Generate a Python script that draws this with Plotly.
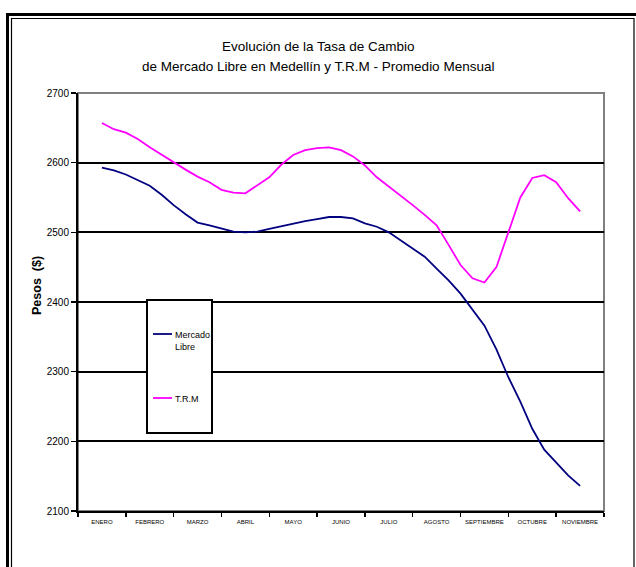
import plotly.graph_objects as go

# ---------------- data ----------------
months = ["ENERO", "FEBRERO", "MARZO", "ABRIL", "MAYO", "JUNIO",
          "JULIO", "AGOSTO", "SEPTIEMBRE", "OCTUBRE", "NOVIEMBRE"]

# sample positions (in month units, 4 samples per month, Jan 0 .. Nov 10)
x_pos = [i / 4 for i in range(41)]

mercado_libre = [2593, 2589, 2583, 2575, 2567, 2554, 2539, 2526, 2514, 2510,
                 2505, 2501, 2500, 2501, 2505, 2509, 2512, 2516, 2519, 2522,
                 2522, 2520, 2513, 2508, 2500, 2488, 2477, 2465, 2448, 2431,
                 2412, 2389, 2366, 2332, 2292, 2257, 2218, 2188, 2170, 2151,
                 2136]

trm = [2657, 2648, 2643, 2634, 2622, 2611, 2601, 2590, 2580, 2572,
       2561, 2557, 2556, 2568, 2579, 2597, 2611, 2618, 2621, 2622,
       2618, 2609, 2596, 2579, 2566, 2552, 2539, 2525, 2510, 2482,
       2453, 2434, 2428, 2450, 2500, 2550, 2578, 2582, 2572, 2549,
       2530]

y_ticks = [2100, 2200, 2300, 2400, 2500, 2600, 2700]

series_names = ["Mercado<br>Libre", "T.R.M"]
series_colors = ["#000080", "#FF00FF"]

# ---------------- layout helpers ----------------
W, H = 636, 567
PL, PR, PT, PB = 78, 604, 93, 511  # plot area in pixels


def px(x):
    return x / W


def py(y):
    return 1 - y / H


FONT = "Liberation Sans, Arial, sans-serif"

fig = go.Figure()
for name, vals, col in zip(series_names, [mercado_libre, trm], series_colors):
    fig.add_trace(go.Scatter(x=x_pos, y=vals, mode="lines", name=name.replace("<br>", " "),
                             line=dict(color=col, width=1.8), showlegend=False,
                             xaxis="x", yaxis="y"))

n = len(months)
fig.update_layout(
    width=W, height=H,
    margin=dict(l=0, r=0, t=0, b=0, autoexpand=False),
    paper_bgcolor="white", plot_bgcolor="white",
    font=dict(family=FONT, color="black"),
    xaxis=dict(domain=[px(PL), px(PR)], range=[-0.5, n - 0.5],
               tickvals=[i - 0.5 for i in range(n + 1)],
               ticktext=["" for _ in range(n + 1)],
               ticks="outside", ticklen=4, tickwidth=1.5, tickcolor="black",
               showline=True, linecolor="black", linewidth=2,
               showgrid=False, zeroline=False, fixedrange=True),
    xaxis2=dict(domain=[px(PL), px(PR)], range=[-0.5, n - 0.5],
                overlaying="x", anchor="y", side="bottom",
                tickvals=list(range(n)), ticktext=months,
                ticks="", showline=False, showgrid=False, zeroline=False,
                tickfont=dict(size=6, family=FONT, color="#000000"),
                ticklabelstandoff=6, fixedrange=True),
    yaxis=dict(domain=[py(PB), py(PT)], range=[2100, 2700],
               tickvals=y_ticks, tickformat="d",
               ticks="outside", ticklen=5, tickwidth=1.5, tickcolor="black",
               tickfont=dict(size=10, family=FONT, color="black"),
               showline=True, linecolor="black", linewidth=2,
               showgrid=True, gridcolor="black", gridwidth=2,
               zeroline=False, fixedrange=True),
)

# dummy trace to activate xaxis2 labels
fig.add_trace(go.Scatter(x=[0], y=[None], xaxis="x2", yaxis="y",
                         showlegend=False, hoverinfo="skip"))

shapes = []
# plot-area border (gray top/right)
shapes.append(dict(type="rect", xref="paper", yref="paper",
                   x0=px(PL), x1=px(PR), y0=py(PB), y1=py(PT),
                   line=dict(color="#808080", width=2), layer="between"))
# outer frame: thick + thin
shapes.append(dict(type="rect", xref="paper", yref="paper",
                   x0=px(7.5), x1=px(639), y0=-0.05, y1=py(14.5),
                   line=dict(color="black", width=3), layer="above"))
shapes.append(dict(type="rect", xref="paper", yref="paper",
                   x0=px(11.5), x1=px(634), y0=-0.05, y1=py(18.5),
                   line=dict(color="black", width=1.2), layer="above"))
# legend box
shapes.append(dict(type="rect", xref="paper", yref="paper",
                   x0=px(147), x1=px(212), y0=py(433), y1=py(300),
                   line=dict(color="black", width=2), fillcolor="white", layer="above"))
legend_y = [334, 398]
for ly, col in zip(legend_y, series_colors):
    shapes.append(dict(type="line", xref="paper", yref="paper",
                       x0=px(153), x1=px(172), y0=py(ly), y1=py(ly),
                       line=dict(color=col, width=1.8), layer="above"))
fig.update_layout(shapes=shapes)

annotations = []
# title (two lines)
title_lines = ["Evolución de la Tasa de Cambio",
               "de Mercado Libre en Medellín y T.R.M - Promedio Mensual"]
for ty, t in zip([46, 66], title_lines):
    annotations.append(dict(xref="paper", yref="paper", x=px(318), y=py(ty),
                            xanchor="center", yanchor="middle", showarrow=False,
                            text=t, font=dict(size=13.5, family=FONT, color="black")))
for ly, name in zip(legend_y, series_names):
    annotations.append(dict(xref="paper", yref="paper", x=px(173), y=py(ly - 6),
                            xanchor="left", yanchor="top", showarrow=False,
                            text=name, align="left",
                            font=dict(size=9, family=FONT, color="black")))
annotations.append(dict(xref="paper", yref="paper", x=px(37), y=py(286),
                        xanchor="center", yanchor="middle", showarrow=False,
                        text="<b>Pesos  ($)</b>", textangle=-90,
                        font=dict(size=12.5, family=FONT, color="black")))
fig.update_layout(annotations=annotations)

fig.write_html("out.html", config={"displayModeBar": False, "staticPlot": True},
               post_script="document.body.style.margin='0';")
